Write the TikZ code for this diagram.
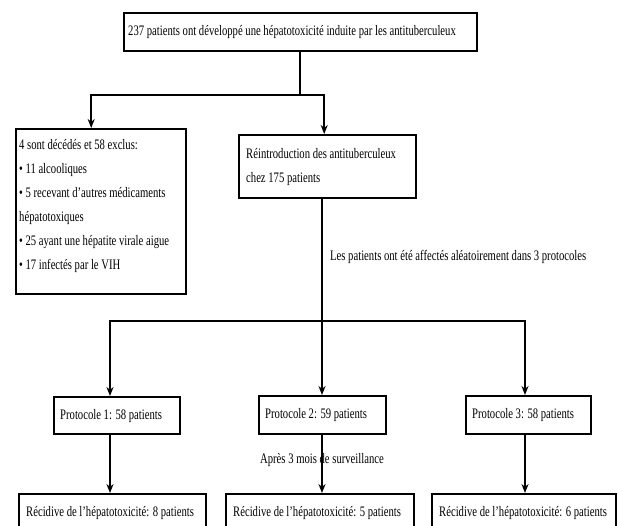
\documentclass[tikz,border=0pt]{standalone}
\usepackage{fontspec}
\setmainfont[FakeStretch=0.735]{Liberation Serif}
\usetikzlibrary{arrows.meta,positioning}
\tikzset{%
box/.style={draw,line width=2.4pt,anchor=north west,align=flush left,inner xsep=6pt,inner ysep=0pt,font=\fontsize{14.5}{24}\selectfont},
line/.style={line width=2pt},
arr/.style={line,-{Stealth[length=9pt,width=7pt]}},
lbl/.style={font=\fontsize{14.5}{24}\selectfont,inner sep=1pt}
}

\begin{document}
\begin{tikzpicture}[x=1pt,y=-1pt]
\useasboundingbox (0,0) rectangle (618,526);
\clip (0,0) rectangle (618,526);
\node[box,minimum width=353,minimum height=38,text width=345,inner xsep=4pt] (top) at (123,12)
        {237 patients ont développé une hépatotoxicité induite par les antituberculeux};
\node[box,minimum width=170,minimum height=165,text width=164,inner xsep=3pt] (excl) at (15,128)
        {4 sont décédés et 58 exclus:\\
         • 11 alcooliques\\
         • 5 recevant d’autres médicaments\\
         hépatotoxiques\\
         • 25 ayant une hépatite virale aigue\\
         • 17 infectés par le VIH\rule[-15pt]{0pt}{15pt}};
\node[box,minimum width=177,minimum height=63,text width=163,inner xsep=7pt] (reint) at (238,134)
        {Réintroduction des antituberculeux\\chez 175 patients};
\node[lbl,anchor=west] (alea) at (329,257) {Les patients ont été affectés aléatoirement dans 3 protocoles};
\node[box,minimum width=126,minimum height=37,text width=114] (p1) at (53,396) {Protocole 1: 58 patients};
\node[box,minimum width=127,minimum height=38,text width=115] (p2) at (258,395) {Protocole 2: 59 patients};
\node[box,minimum width=125,minimum height=38,text width=113] (p3) at (465,395) {Protocole 3: 58 patients};
\node[lbl] (suivi) at (322,460) {Après 3 mois de surveillance};
\node[box,minimum width=187,minimum height=38,text width=173,inner xsep=7pt] (r1) at (18,493)
        {Récidive de l’hépatotoxicité: 8 patients};
\node[box,minimum width=188,minimum height=38,text width=174,inner xsep=7pt] (r2) at (225,493)
        {Récidive de l’hépatotoxicité: 5 patients};
\node[box,minimum width=184,minimum height=38,text width=170,inner xsep=7pt] (r3) at (431,493)
        {Récidive de l’hépatotoxicité: 6 patients};
\coordinate (s1) at (300,95);
\coordinate (s2) at (322,321);
\coordinate (c1) at (110,321);
\coordinate (c3) at (525,321);
\draw[arr] (top.south -| s1) -- (s1) -| ([xshift=-10pt]excl.north);
\draw[arr] (s1) -| ([xshift=-3.5pt]reint.north);
\draw[arr] (reint.south -| s2) -- (p2.north -| s2);
\draw[arr] (s2) -| (p1.north -| c1);
\draw[arr] (s2) -| (p3.north -| c3);
\draw[arr] (p1.south -| c1) -- (r1.north -| c1);
\draw[arr] (p2.south -| s2) -- (r2.north -| s2);
\draw[arr] (p3.south -| c3) -- (r3.north -| c3);
\end{tikzpicture}
\end{document}
